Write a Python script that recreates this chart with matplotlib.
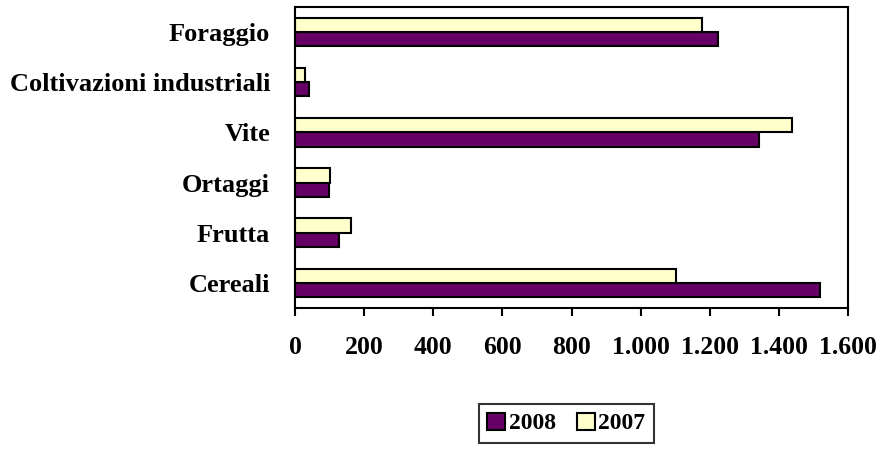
import numpy as np
import matplotlib
matplotlib.use("Agg")
import matplotlib.pyplot as plt

# Data
categories = ['Cereali', 'Frutta', 'Ortaggi', 'Vite', 'Coltivazioni industriali', 'Foraggio']
val_2008 = [1520, 128, 97, 1341, 40, 1223]
val_2007 = [1101, 161, 101, 1439, 30, 1178]
ticks = [0, 200, 400, 600, 800, 1000, 1200, 1400, 1600]
tick_labels = ['0', '200', '400', '600', '800', '1.000', '1.200', '1.400', '1.600']

plt.rcParams['font.family'] = ['Liberation Serif', 'DejaVu Serif']
plt.rcParams['font.weight'] = 'bold'

fig = plt.figure(figsize=(8.78, 4.5), dpi=100)
ax = fig.add_axes([0.336, 0.3156, 0.630, 0.669])

y = np.arange(len(categories))
h = 0.285
ax.barh(y - h / 2, val_2008, height=h, color='#660066', edgecolor='black', linewidth=1.5, label='2008')
ax.barh(y + h / 2, val_2007, height=h, color='#FFFFCC', edgecolor='black', linewidth=1.5, label='2007')

ax.set_xlim(0, 1600)
ax.set_ylim(-0.5, len(categories) - 0.5)
ax.set_xticks(ticks)
ax.set_xticklabels(tick_labels, fontsize=18.5, fontweight='bold')
ax.set_yticks(y)
ax.set_yticklabels(categories, fontsize=19, fontweight='bold')
ax.tick_params(axis='x', direction='out', length=6, width=1.5, pad=14)
ax.tick_params(axis='y', length=0, pad=18)
for s in ax.spines.values():
    s.set_linewidth(1.5)
    s.set_color('black')

leg = fig.legend(loc='center', bbox_to_anchor=(0.645, 0.059), ncol=2,
                 frameon=True, fancybox=False, edgecolor='black', handlelength=0.75,
                 handleheight=0.75, handletextpad=0.15, columnspacing=0.9,
                 borderpad=0.35, borderaxespad=0, prop={'weight': 'bold', 'size': 17})
leg.get_frame().set_linewidth(1.5)

fig.savefig('out.png', dpi=100)
